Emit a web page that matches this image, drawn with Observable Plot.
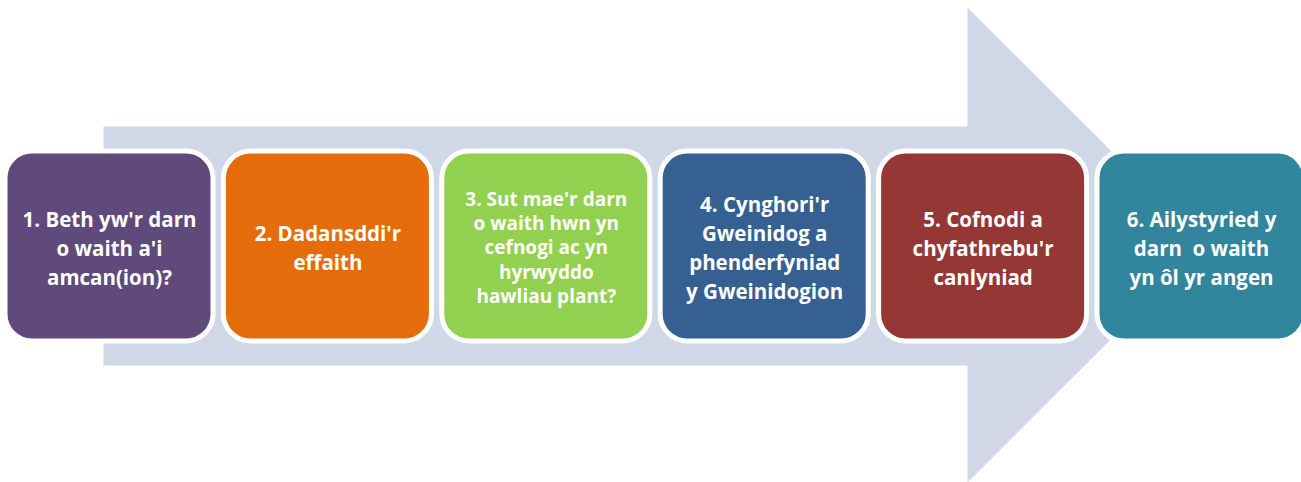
<!DOCTYPE html>
<html>
<head>
<meta charset="utf-8">
<script src="https://cdn.jsdelivr.net/npm/d3@7"></script>
<script src="https://cdn.jsdelivr.net/npm/@observablehq/plot@0.6"></script>
<style>
  html, body { margin: 0; padding: 0; background: #ffffff; }
  #chart svg { display: block; }
</style>
</head>
<body>
<div id="chart"></div>
<script>
// Step data
const stepNumbers = [1, 2, 3, 4, 5, 6];
const stepLabels = [
  "1. Beth yw'r darn\no waith a'i\namcan(ion)?",
  "2. Dadansddi'r\neffaith",
  "3. Sut mae'r darn\no waith hwn yn\ncefnogi ac yn\nhyrwyddo\nhawliau plant?",
  "4. Cynghori'r\nGweinidog a\nphenderfyniad\ny Gweinidogion",
  "5. Cofnodi a\nchyfathrebu'r\ncanlyniad",
  "6. Ailystyried y\ndarn  o waith\nyn ôl yr angen"
];
const stepColors = ["#604A7B", "#E46C0A", "#92D050", "#366092", "#953735", "#31859C"];

// Layout (pixels in a 1301 x 482 frame)
const W = 1301, H = 482;
const firstLeft = 5, stepPitch = 218.4, boxWidth = 208;
const boxTop = 151, boxBottom = 341;
const arrow = {left: 103, bodyTop: 126, bodyBottom: 365, headX: 967, headTop: 7, headBottom: 482, tipX: 1205};
const arrowPoly = [
  [arrow.left, arrow.bodyTop], [arrow.headX, arrow.bodyTop], [arrow.headX, arrow.headTop],
  [arrow.tipX, (arrow.headTop + arrow.headBottom) / 2], [arrow.headX, arrow.headBottom],
  [arrow.headX, arrow.bodyBottom], [arrow.left, arrow.bodyBottom], [arrow.left, arrow.bodyTop]
].map(([x, y]) => ({x, y}));

const steps = stepNumbers.map((n, i) => ({
  n, label: stepLabels[i], color: stepColors[i],
  x1: firstLeft + i * stepPitch, x2: firstLeft + i * stepPitch + boxWidth,
  cx: firstLeft + i * stepPitch + boxWidth / 2,
  cy: (boxTop + boxBottom) / 2,
  small: n === 3
}));

const font = "'Open Sans', 'Noto Sans', sans-serif";

const chart = Plot.plot({
  width: W, height: H,
  margin: 0,
  x: {domain: [0, W], axis: null},
  y: {domain: [0, H], reverse: true, axis: null},
  marks: [
    Plot.line(arrowPoly, {x: "x", y: "y", fill: "#D0D8E8", stroke: "none", curve: "linear"}),
    Plot.rect(steps, {x1: "x1", x2: "x2", y1: boxTop, y2: boxBottom, fill: "color", stroke: "#ffffff", strokeWidth: 5, rx: 27, ry: 27}),
    Plot.text(steps.filter(d => !d.small), {x: "cx", y: "cy", text: "label", fill: "#ffffff", fontSize: 20.5, fontWeight: "bold", fontFamily: font, lineHeight: 1.41, lineAnchor: "middle", textAnchor: "middle"}),
    Plot.text(steps.filter(d => d.small), {x: "cx", y: "cy", text: "label", fill: "#ffffff", fontSize: 19, fontWeight: "bold", fontFamily: font, lineHeight: 1.28, lineAnchor: "middle", textAnchor: "middle"})
  ]
});
chart.style.fontFamily = font;
document.getElementById("chart").append(chart);
</script>
</body>
</html>
